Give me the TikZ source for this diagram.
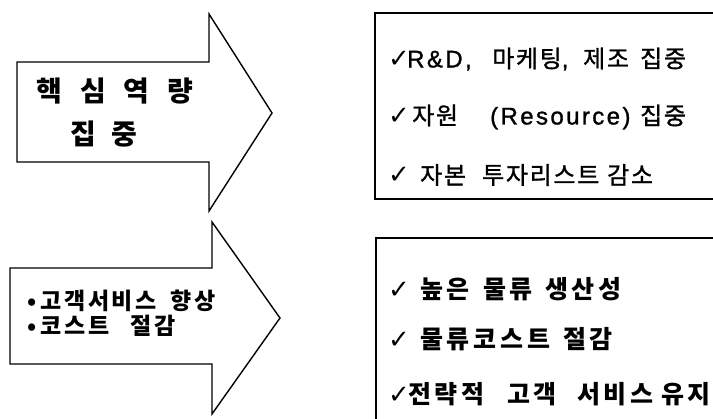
\documentclass[tikz,border=0pt]{standalone}
\usepackage{fontspec}
\setmainfont{Noto Sans CJK KR}
\newfontfamily\krm[LetterSpace=7,FakeBold=1.2]{Noto Sans CJK KR}
\newfontfamily\krbb[LetterSpace=15]{Noto Sans CJK KR}
\newfontfamily\krc[LetterSpace=12]{Noto Sans CJK KR}
\newfontfamily\krb{Noto Sans CJK KR}
\newfontfamily\lat[LetterSpace=10,FakeBold=1.2]{Liberation Sans}
\newfontfamily\chk{DejaVu Sans}
\newcommand{\ck}{{\chk\bfseries\fontsize{26}{26}\selectfont ✓}}
\newcommand{\wbox}[2]{\makebox[#1pt][l]{#2}}
\begin{document}
\begin{tikzpicture}[x=1pt,y=-1pt,
  shapeline/.style={draw=black,line width=1.4pt,line join=miter},
  boxline/.style={draw=black,line width=2pt},
  rtext/.style={anchor=west,inner sep=0pt,font=\krm\fontsize{24}{28}\selectfont},
  rbtext/.style={anchor=west,inner sep=0pt,font=\krbb\bfseries\fontsize{25}{28}\selectfont},
  bigtext/.style={inner sep=0pt,font=\krb\bfseries\fontsize{28}{32}\selectfont},
  midtext/.style={anchor=west,inner sep=0pt,font=\krc\bfseries\fontsize{23}{26}\selectfont}]
\useasboundingbox (0,0) rectangle (713,419);
\clip (0,0) rectangle (713,419);
\fill[white] (0,0) rectangle (713,419);
% arrows
\draw[shapeline] (17,62) -- (209,62) -- (209,14) -- (272,113) -- (209,211) -- (209,162) -- (17,162) -- cycle;
\draw[shapeline] (10,268) -- (212,268) -- (212,222) -- (280,318) -- (212,414) -- (212,364) -- (10,364) -- cycle;
% boxes
\draw[boxline] (375,13) rectangle (725,199);
\draw[boxline] (376,238) rectangle (725,430);
% left texts
\node[bigtext] (a1) at (115,91) {핵\hspace{18pt}심\hspace{18pt}역\hspace{18pt}량};
\node[bigtext] (a2) at (104,134) {집\hspace{15pt}중};
\node[midtext] (c1) at (27,301) {\wbox{13}{•}\wbox{130}{고객서비스}향상};
\node[midtext] (c2) at (27,326) {\wbox{13}{•}\wbox{90}{코스트}절감};
% right texts
\node[rtext] (t1) at (388,59) {\wbox{19}{\ck}\wbox{85}{\lat R\&D,}\wbox{91}{마케팅{\lat ,}}\wbox{57}{제조}집중};
\node[rtext] (t2) at (388,117) {\wbox{24}{\ck}\wbox{78}{자원}\wbox{150}{\lat (Resource)}집중};
\node[rtext] (t3) at (388,175) {\wbox{32}{\ck}\wbox{62}{자본}\wbox{125}{투자리스트}감소};
\node[rbtext] (b1) at (388,289) {\wbox{32}{\ck}\wbox{63}{높은}\wbox{62}{물류}생산성};
\node[rbtext] (b2) at (388,339) {\wbox{32}{\ck}\wbox{143}{물류코스트}절감};
\node[rbtext] (b3) at (388,394) {\wbox{20}{\ck}\wbox{99}{전략적}\wbox{70}{고객}\wbox{84}{서비스}유지};
\end{tikzpicture}
\end{document}
